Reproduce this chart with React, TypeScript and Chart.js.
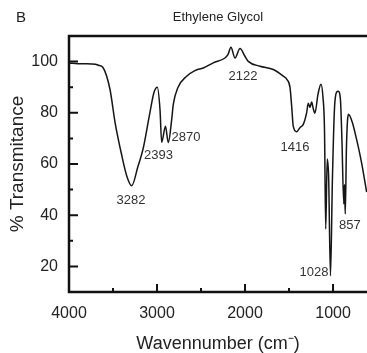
import React, { useEffect, useRef } from "react";
import { Chart, registerables } from "chart.js";

Chart.register(...registerables);

const wavenumbers = [
  3995, 3900, 3800, 3700, 3667, 3614, 3534, 3477, 3398, 3341,
  3288, 3216, 3159, 3080, 3034, 2997, 2966, 2947, 2904, 2872,
  2833, 2815, 2762, 2663, 2569, 2474, 2361, 2228, 2194, 2160,
  2114, 2057, 2001, 1963, 1830, 1679, 1565, 1523, 1489, 1470,
  1452, 1413, 1376, 1338, 1300, 1281, 1262, 1243, 1225, 1206,
  1171, 1137, 1114, 1097, 1083, 1066, 1050, 1029, 1007, 984,
  961, 941, 916, 899, 878, 870, 861, 848, 836, 825,
  785, 732, 677, 618,
];

const transmittance = [
  99.4, 99.2, 99.2, 99.0, 98.6, 97.7, 89.1, 76.3, 63, 55,
  51.5, 59.1, 65.8, 80.2, 88, 90, 81.3, 68.5, 74.7, 68.4,
  77.4, 83.3, 89.9, 94.3, 96.5, 97.5, 99.5, 101.4, 102.7, 105.6,
  101.4, 105.1, 102.1, 100.1, 98.2, 96.9, 94.3, 93, 89.9, 82.6,
  74.8, 72.6, 74.2, 75.5, 80, 83.7, 82.1, 84.2, 81.7, 79.8,
  87.2, 91.2, 86, 73.5, 34.6, 62, 55, 16.3, 54, 81.3,
  88, 88.4, 85.2, 69.6, 44.4, 52, 40.5, 65.8, 76.7, 79.4,
  76.7, 69.6, 60.7, 49,
];

const peakLabels = ["3282", "2393", "2870", "2122", "1416", "857", "1028"];
const peakLabelX = [3296, 2983, 2671, 2023, 1433, 808, 1217];
const peakLabelY = [45.6, 63.2, 70.3, 94.3, 66.4, 35.9, 17.8];

const xMajorTicks = [4000, 3000, 2000, 1000];
const xMinorTicks = [3500, 2500, 1500];
const yMajorTicks = [20, 40, 60, 80, 100];
const yMinorTicks = [30, 50, 70, 90];

const X_MIN = 614;
const X_MAX = 4000;
const Y_MIN = 10;
const Y_MAX = 110;

const FONT = "'Liberation Sans', Arial, sans-serif";

const framePlugin = {
  id: "frameTicksLabels",
  afterDatasetsDraw(chart: any) {
    const { ctx, chartArea, scales } = chart;
    const xs = scales.x;
    const ys = scales.y;
    const { left, right, top, bottom } = chartArea;
    ctx.save();
    ctx.strokeStyle = "#111";
    ctx.lineWidth = 2.5;
    ctx.beginPath();
    ctx.moveTo(left, top);
    ctx.lineTo(right + 2, top);
    ctx.moveTo(left, top - 1.25);
    ctx.lineTo(left, bottom + 1.25);
    ctx.moveTo(left - 1.25, bottom);
    ctx.lineTo(right + 2, bottom);
    ctx.stroke();

    ctx.lineWidth = 2;
    ctx.beginPath();
    xMajorTicks.forEach((v) => {
      const px = xs.getPixelForValue(v);
      ctx.moveTo(px, bottom);
      ctx.lineTo(px, bottom - 8);
    });
    xMinorTicks.forEach((v) => {
      const px = xs.getPixelForValue(v);
      ctx.moveTo(px, bottom);
      ctx.lineTo(px, bottom - 4);
    });
    yMajorTicks.forEach((v) => {
      const py = ys.getPixelForValue(v);
      ctx.moveTo(left, py);
      ctx.lineTo(left + 9, py);
    });
    yMinorTicks.forEach((v) => {
      const py = ys.getPixelForValue(v);
      ctx.moveTo(left, py);
      ctx.lineTo(left + 4, py);
    });
    ctx.stroke();

    ctx.fillStyle = "#333";
    ctx.font = `13px ${FONT}`;
    ctx.textAlign = "center";
    ctx.textBaseline = "middle";
    peakLabels.forEach((t, i) => {
      ctx.fillText(t, xs.getPixelForValue(peakLabelX[i]), ys.getPixelForValue(peakLabelY[i]));
    });

    ctx.fillStyle = "#222";
    ctx.font = `15px ${FONT}`;
    ctx.fillText("B", 21, 18);
    ctx.restore();
  },
};

export default function App() {
  const canvasRef = useRef<HTMLCanvasElement | null>(null);

  useEffect(() => {
    if (!canvasRef.current) return;
    const points = wavenumbers.map((w, i) => ({ x: w, y: transmittance[i] }));
    const chart = new Chart(canvasRef.current, {
      type: "line",
      data: {
        datasets: [
          {
            data: points,
            borderColor: "#151515",
            borderWidth: 1.5,
            pointRadius: 0,
            fill: false,
            cubicInterpolationMode: "monotone",
          },
        ],
      },
      options: {
        animation: false,
        responsive: true,
        maintainAspectRatio: false,
        layout: { padding: 0 },
        plugins: {
          legend: { display: false },
          tooltip: { enabled: false },
          title: {
            display: true,
            text: "Ethylene Glycol",
            fullSize: false,
            color: "#222",
            font: { family: FONT, size: 13, lineHeight: 1.2, weight: "normal" },
            padding: { top: 10, bottom: 10.4 },
          },
        },
        scales: {
          x: {
            type: "linear",
            reverse: true,
            min: X_MIN,
            max: X_MAX,
            grid: { display: false, drawTicks: false },
            border: { display: false },
            afterBuildTicks: (scale: any) => {
              scale.ticks = xMajorTicks.map((v) => ({ value: v }));
            },
            afterFit: (scale: any) => {
              scale.height = 61;
            },
            ticks: {
              autoSkip: false,
              maxRotation: 0,
              padding: 12,
              color: "#222",
              font: { family: FONT, size: 16 },
              callback: (v: any) => String(v),
            },
            title: {
              display: true,
              text: "Wavennumber (cm\u207B)",
              color: "#222",
              font: { family: FONT, size: 18, lineHeight: 1 },
              padding: { top: 0, bottom: 0 },
            },
          },
          y: {
            type: "linear",
            min: Y_MIN,
            max: Y_MAX,
            grid: { display: false, drawTicks: false },
            border: { display: false },
            afterBuildTicks: (scale: any) => {
              scale.ticks = yMajorTicks.map((v) => ({ value: v }));
            },
            afterFit: (scale: any) => {
              scale.width = 69;
            },
            ticks: {
              autoSkip: false,
              padding: 11,
              color: "#222",
              font: { family: FONT, size: 16 },
              callback: (v: any) => String(v),
            },
            title: {
              display: true,
              text: "% Transmitance",
              color: "#222",
              font: { family: FONT, size: 19, lineHeight: 1 },
              padding: { top: 8, bottom: 0 },
            },
          },
        },
      },
      plugins: [framePlugin],
    });
    return () => chart.destroy();
  }, []);

  return (
    <div style={{ position: "fixed", left: 0, top: 0, width: 367, height: 353, background: "#fff" }}>
      <canvas ref={canvasRef} />
    </div>
  );
}
